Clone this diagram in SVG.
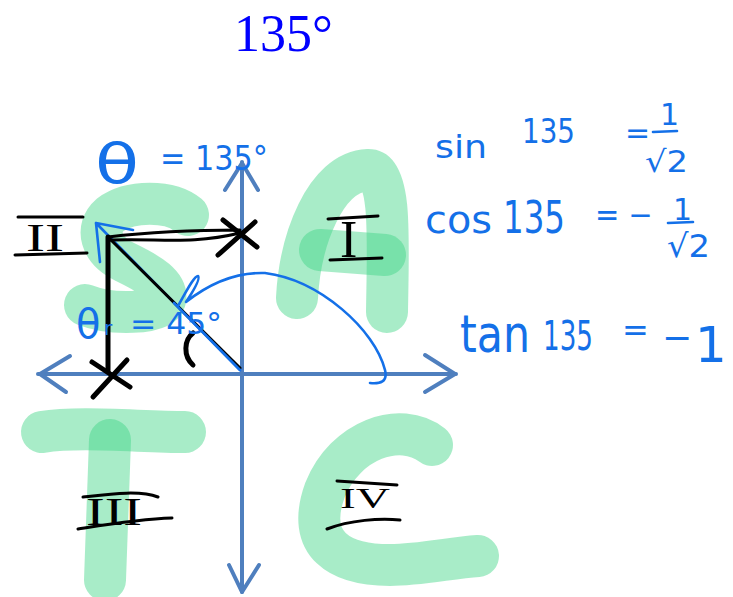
<svg xmlns="http://www.w3.org/2000/svg" width="733" height="597" viewBox="0 0 733 597">
<defs>
<filter id="soft" filterUnits="userSpaceOnUse" x="0" y="0" width="733" height="597"><feGaussianBlur stdDeviation="0.7"/></filter>
<style>
.g{fill:none;stroke:#3ed585;stroke-opacity:0.45;stroke-width:42;stroke-linecap:round;stroke-linejoin:round}
.ax{fill:none;stroke:#4f7fbe;stroke-width:4;stroke-linecap:round;stroke-linejoin:round}
.k{fill:none;stroke:#000;stroke-width:3;stroke-linecap:round;stroke-linejoin:round}
.kt{fill:none;stroke:#000;stroke-width:5;stroke-linecap:round;stroke-linejoin:round}
.b{fill:none;stroke:#1470e8;stroke-width:2.6;stroke-linecap:round;stroke-linejoin:round}
.hw{font-family:"DejaVu Sans","Noto Sans",sans-serif;fill:#1470e8}
.rn{font-family:"Liberation Serif",serif;fill:#000}
</style>
</defs>
<rect width="733" height="597" fill="#fff"/>

<g id="title"><text x="234" y="51" font-family="Liberation Serif,serif" font-size="52" fill="#0000ff">135°</text></g>

<g id="green-letters">
<path class="g" d="M188 215 C170 200 130 200 110 215 C95 228 100 250 125 262 C150 274 168 285 165 300 C160 315 110 315 85 305"/>
<path class="g" d="M297 298 C300 240 325 172 368 170 C392 170 388 240 387 312"/>
<path class="g" d="M320 250 L385 255"/>
<path class="g" d="M42 432 C80 426 140 432 185 432"/>
<path class="g" d="M110 440 L105 580"/>
<path class="g" d="M432 445 C400 420 345 440 325 490 C305 545 340 565 390 565 C420 565 450 558 478 556"/>
</g>

<g id="axes" filter="url(#soft)">
<path class="ax" d="M38 374 L456 374"/>
<path class="ax" d="M70 356 L40 374 L66 392"/>
<path class="ax" d="M425 355 L455 374 L425 392"/>
<path class="ax" d="M242 162 L242 592"/>
<path class="ax" d="M225 190 L242 163 L258 190"/>
<path class="ax" d="M229 565 L242 592 L259 565"/>
</g>

<g id="triangle">
<path class="b" d="M240 370 L96 223 M96 223 L133 230 M96 223 L100 262"/>
<path class="kt" d="M108 237 L108 372"/>
<path class="k" d="M108 237 C150 232 200 230 240 230 M110 240 C160 238 190 245 240 233"/>
<path class="k" d="M108 237 L240 368"/>
<path class="b" d="M174 303 L240 370"/>
<path class="kt" d="M223 220 L257 247 M255 222 L218 255"/>
<path class="kt" d="M92 362 L130 387 M127 360 L93 397"/>
<path class="kt" d="M193 333 C184 340 183 356 193 365"/>
<path class="b" d="M178 306 C186 292 194 276 198 276 C201 279 190 296 186 302 C210 283 235 272 265 273 C320 280 375 330 385 370 C388 382 380 384 370 383"/>
</g>

<g id="quadrant-labels">
<path class="k" d="M18 217 L83 217 M15 255 L87 253"/>
<text class="rn" x="26" y="251" font-size="40" textLength="38" lengthAdjust="spacingAndGlyphs">II</text>
<path class="k" d="M328 219 L378 216 M330 260 L382 258"/>
<text class="rn" x="340" y="257" font-size="52">I</text>
<path class="k" d="M83 497 C110 494 140 490 158 497 M78 529 C110 524 140 519 172 518"/>
<text class="rn" x="86" y="525" font-size="40" textLength="56" lengthAdjust="spacingAndGlyphs">III</text>
<path class="k" d="M337 481 L397 485 M327 529 C350 520 380 518 400 520"/>
<text class="rn" x="340" y="508" font-size="30" textLength="50" lengthAdjust="spacingAndGlyphs">IV</text>
</g>

<g id="angle-labels">
<text class="hw"><tspan x="95" y="183" font-size="56" textLength="44" lengthAdjust="spacingAndGlyphs">θ</tspan><tspan x="160" y="170" font-size="34" textLength="108" lengthAdjust="spacingAndGlyphs">= 135°</tspan></text>
<text class="hw"><tspan x="76" y="338" font-size="40">θ</tspan><tspan x="104" y="335" font-size="20">r</tspan><tspan x="130" y="334" font-size="30" textLength="92" lengthAdjust="spacingAndGlyphs">= 45°</tspan></text>
</g>

<g id="equations">
<text class="hw"><tspan x="435" y="158" font-size="32" textLength="52" lengthAdjust="spacingAndGlyphs">sin</tspan><tspan x="522" y="143" font-size="34" textLength="53" lengthAdjust="spacingAndGlyphs">135</tspan><tspan x="625" y="143" font-size="30">=</tspan><tspan x="660" y="125" font-size="30">1</tspan><tspan x="645" y="172" font-size="30" textLength="43" lengthAdjust="spacingAndGlyphs">√2</tspan></text>
<path class="b" d="M653 132 L677 131"/>
<text class="hw"><tspan x="425" y="233" font-size="38" textLength="67" lengthAdjust="spacingAndGlyphs">cos</tspan><tspan x="503" y="233" font-size="44" textLength="62" lengthAdjust="spacingAndGlyphs">135</tspan><tspan x="595" y="226" font-size="32" textLength="58" lengthAdjust="spacingAndGlyphs">= −</tspan><tspan x="673" y="220" font-size="30">1</tspan><tspan x="667" y="257" font-size="32" textLength="43" lengthAdjust="spacingAndGlyphs">√2</tspan></text>
<path class="b" d="M668 223 L693 222"/>
<text class="hw"><tspan x="460" y="352" font-size="52" textLength="70" lengthAdjust="spacingAndGlyphs">tan</tspan><tspan x="543" y="350" font-size="40" textLength="50" lengthAdjust="spacingAndGlyphs">135</tspan><tspan x="622" y="341" font-size="32">=</tspan><tspan x="662" y="350" font-size="36">−</tspan><tspan x="695" y="362" font-size="50">1</tspan></text>
</g>
</svg>
